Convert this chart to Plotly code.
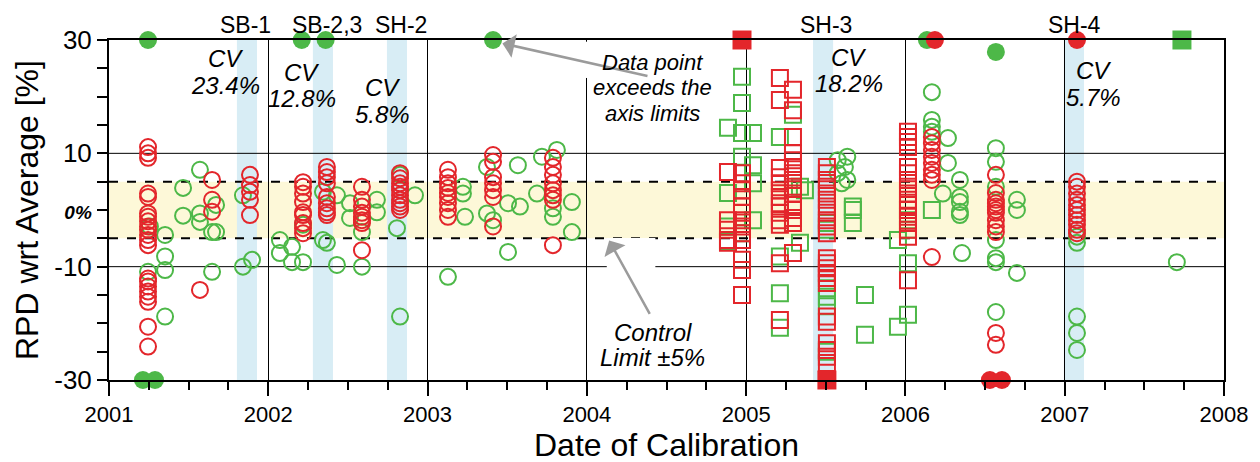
import plotly.graph_objects as go

# ---------------- data (decimal year, RPD %) ----------------
red_circle_cols = [
    (2001.245, [11.1, 10.0, 9.2, 2.9, 2.3, -0.6, -1.2, -2.0, -2.9, -3.5, -4.4, -5.3, -6.2,
                -12.1, -12.6, -13.5, -14.4, -15.3, -16.2, -20.6, -24.1]),
    (2001.571, [-14.1]),
    (2001.647, [5.3, 1.8, -0.3]),
    (2001.885, [6.2, 4.4, 3.2, 1.8, -0.9]),
    (2002.218, [4.9, 4.1, 2.9, 1.4, -0.4, -0.9, -2.3, -3.2, -4.1]),
    (2002.368, [7.6, 6.7, 5.8, 4.7, 2.3, 1.2, 0.3, -0.4, -0.9]),
    (2002.588, [4.1, 1.8, 0.6, -0.5, -1.2, -1.8, -2.3, -7.1]),
    (2002.827, [6.5, 5.6, 4.7, 4.1, 3.5, 2.6, 1.8, 1.2, 0.6, 0.0]),
    (2003.128, [7.1, 5.8, 4.7, 3.9, 3.0, 2.3, 1.2, 0.0, -1.2]),
    (2003.411, [9.7, 8.5, 5.8, 4.7, 3.5, 2.3, -2.9]),
    (2003.787, [9.2, 7.6, 6.2, 4.7, 3.5, 2.6, 1.8, -6.2]),
    (2006.166, [12.9, 11.8, 10.6, 9.4, 8.3, 7.1, 6.2, 5.3, -8.3]),
    (2006.568, [6.2, 3.0, 1.8, 1.2, 0.6, 0.0, -0.5, -1.8, -2.9, -3.9, -21.7, -23.8]),
    (2007.077, [5.0, 4.1, 2.9, 1.8, 0.9, 0.0, -0.9, -1.8, -2.6, -3.5, -4.1]),
]
green_circle_cols = [
    (2001.245, [-10.9]),
    (2001.257, [-2.9]),
    (2001.352, [-4.4, -8.2, -10.6, -18.8]),
    (2001.465, [3.9, -1.0]),
    (2001.571, [7.1, -0.6, -2.1]),
    (2001.647, [-3.9, -10.9]),
    (2001.672, [0.9, -3.9]),
    (2001.841, [2.6, -10.0]),
    (2001.898, [-8.8]),
    (2002.073, [-5.3, -7.6]),
    (2002.149, [-6.5, -9.2]),
    (2002.218, [-2.6, -9.2]),
    (2002.343, [3.2, -5.3]),
    (2002.368, [-5.8]),
    (2002.431, [2.6, -9.7]),
    (2002.513, [1.2, -1.4]),
    (2002.588, [-3.9, -10.0]),
    (2002.682, [1.8, -0.4]),
    (2002.808, [-3.2]),
    (2002.827, [6.2, -18.8]),
    (2002.921, [2.6]),
    (2003.128, [-11.8]),
    (2003.222, [4.1, 2.9]),
    (2003.235, [-1.2]),
    (2003.373, [7.6, -0.6]),
    (2003.411, [-1.8]),
    (2003.505, [1.2, -7.4]),
    (2003.567, [7.9]),
    (2003.580, [0.6]),
    (2003.687, [2.9]),
    (2003.718, [9.4]),
    (2003.787, [0.3, -1.2]),
    (2003.812, [10.6]),
    (2003.906, [1.4, -3.9]),
    (2005.575, [8.8, 6.5]),
    (2005.600, [4.7]),
    (2005.620, [7.6]),
    (2005.635, [9.4, 5.3]),
    (2006.166, [20.8, 15.9, 14.7, 13.8]),
    (2006.235, [2.9]),
    (2006.267, [12.7, 8.3]),
    (2006.342, [5.3, 2.3, 1.4, -0.3, -0.9]),
    (2006.355, [-7.6]),
    (2006.568, [10.9, 8.5, 4.1, -5.3, -8.5, -9.2, -18.0]),
    (2006.700, [1.8, 0.0, -11.1]),
    (2007.077, [-4.7, -5.8, -18.8, -21.7, -24.7]),
    (2007.704, [-9.2]),
]
red_square_cols = [
    (2004.886, [6.7, -1.8, -3.5, -5.3, -5.8]),
    (2004.974, [6.5, 4.7, 3.5, 2.3, 0.6, -0.5, -1.8, -2.9, -4.1, -5.3, -8.8, -10.6, -15.0]),
    (2005.212, [23.3, 19.4, 7.4, 5.8, 4.7, 3.5, 2.3, 1.2, 0.6, -0.5, -1.8, -2.6, -9.4, -19.4]),
    (2005.294, [21.2, 17.6, 12.9, 10.0, 8.8, 7.6, 6.5, 5.3, 4.1, 2.9, 0.9, 0.0, -1.4, -2.3, -7.6]),
    (2005.507, [7.6, 6.5, 5.3, 4.1, 2.9, 1.8, 0.6, -0.5, -1.8, -2.9, -4.1, -8.5, -9.4, -10.3,
                -11.1, -12.0, -12.9, -18.8, -19.7, -23.5, -24.7, -25.9, -27.0]),
    (2006.016, [13.8, 12.9, 12.0, 11.1, 7.6, 6.5, 5.3, 4.1, 2.9, 1.8, 0.9, 0.0, -1.2, -2.3,
                -3.5, -4.7, -12.4]),
]
green_square_cols = [
    (2004.886, [14.5, 3.0, -2.9, -5.6]),
    (2004.974, [23.5, 18.9, 13.6, 9.4, -4.1]),
    (2005.043, [13.6, 7.9, 4.7, -1.8]),
    (2005.212, [12.9, -8.2, -14.7, -20.8]),
    (2005.294, [16.8]),
    (2005.338, [4.1, -5.8]),
    (2005.369, [3.5]),
    (2005.507, [-2.3, -3.5, -13.8, -15.3, -17.0, -25.0]),
    (2005.670, [0.6, 0.0, -2.3]),
    (2005.746, [-15.0, -22.0]),
    (2005.953, [-5.3, -20.6]),
    (2006.016, [0.0, -1.8, -3.5, -9.4, -18.5]),
    (2006.166, [0.0]),
]
# points beyond the axis limits (drawn on the frame)
green_dot_x = [2001.245, 2001.213, 2001.289, 2002.210, 2002.360, 2003.411, 2006.135, 2006.568]
green_dot_y = [30, -30, -30, 30, 30, 30, 30, 27.9]
red_dot_x = [2006.185, 2006.530, 2006.606, 2007.077]
red_dot_y = [30, -30, -30, 30]
red_block_x = [2004.974, 2005.507]
red_block_y = [30, -30]
green_block_x = [2007.736]
green_block_y = [30]

# sensor campaign bands (decimal year start, end) and labels
band_names = ["SB-1", "SB-2,3", "SH-2", "SH-3", "SH-4"]
band_start = [2001.803, 2002.280, 2002.745, 2005.420, 2006.995]
band_end = [2001.929, 2002.406, 2002.871, 2005.546, 2007.121]
band_label_x = [2001.86, 2002.37, 2002.833, 2005.50, 2007.064]
cv_labels = ["23.4%", "12.8%", "5.8%", "18.2%", "5.7%"]
cv_x = [2001.73, 2002.21, 2002.72, 2005.645, 2007.18]
cv_y = [24.4, 22.0, 19.2, 24.6, 22.2]

control_limit = 5
grid_y = [-10, 10]

RED = "#E3262B"
GREEN = "#4DB848"
FONT = "Liberation Sans"

# figure geometry (the page body adds an 8 px offset)
FIG_W, FIG_H = 1252, 454
L, T, PW, PH = 101, 32, 1115, 340
R, B = FIG_W - L - PW, FIG_H - T - PH


def flatten(cols):
    xs, ys = [], []
    for x, vals in cols:
        for v in vals:
            xs.append(x)
            ys.append(v)
    return xs, ys


fig = go.Figure()

for cols, color, symbol in [
    (green_circle_cols, GREEN, "circle-open"),
    (red_circle_cols, RED, "circle-open"),
    (green_square_cols, GREEN, "square-open"),
    (red_square_cols, RED, "square-open"),
]:
    xs, ys = flatten(cols)
    fig.add_trace(go.Scatter(
        x=xs, y=ys, mode="markers", cliponaxis=False, showlegend=False,
        marker=dict(symbol=symbol, size=16, color=color, line=dict(width=2, color=color)),
    ))

for xs, ys, color, symbol, size in [
    (green_dot_x, green_dot_y, GREEN, "circle", 18),
    (red_dot_x, red_dot_y, RED, "circle", 18),
    (red_block_x, red_block_y, RED, "square", 19),
    (green_block_x, green_block_y, GREEN, "square", 19),
]:
    fig.add_trace(go.Scatter(
        x=xs, y=ys, mode="markers", cliponaxis=False, showlegend=False,
        marker=dict(symbol=symbol, size=size, color=color, line=dict(width=0)),
    ))

shapes = []
shapes.append(dict(type="rect", xref="x", yref="y", x0=2001, x1=2008,
                   y0=-control_limit, y1=control_limit, fillcolor="#FDF8D8",
                   line=dict(width=0), layer="below"))
for s, e in zip(band_start, band_end):
    shapes.append(dict(type="rect", xref="x", yref="y", x0=s, x1=e, y0=-30, y1=30,
                       fillcolor="#D8EDF5", line=dict(width=0), layer="below"))
for gy in grid_y:
    shapes.append(dict(type="line", xref="x", yref="y", x0=2001, x1=2008, y0=gy, y1=gy,
                       line=dict(color="black", width=1), layer="below"))
for cy in (-control_limit, control_limit):
    shapes.append(dict(type="line", xref="x", yref="y", x0=2001, x1=2008, y0=cy, y1=cy,
                       line=dict(color="black", width=2, dash="dash"), layer="below"))
# white patches behind the notes
shapes.append(dict(type="rect", xref="x", yref="y", x0=2004.125, x1=2004.43, y0=-10.4, y1=-4.95,
                   fillcolor="white", line=dict(width=0), layer="above"))
shapes.append(dict(type="rect", xref="x", yref="y", x0=2003.985, x1=2004.02, y0=23.3, y1=29.7,
                   fillcolor="white", line=dict(width=0), layer="above"))

annotations = []
for name, x in zip(band_names, band_label_x):
    annotations.append(dict(x=x, y=1 + 15 / PH, xref="x", yref="paper", text=name, showarrow=False,
                            font=dict(family=FONT, size=23, color="black"),
                            xanchor="center", yanchor="middle"))
for lab, x, y in zip(cv_labels, cv_x, cv_y):
    annotations.append(dict(x=x, y=y + 2.35, xref="x", yref="y", text="<i>CV</i>", showarrow=False,
                            font=dict(family=FONT, size=24, color="black"),
                            xanchor="center", yanchor="middle"))
    annotations.append(dict(x=x, y=y - 2.35, xref="x", yref="y", text="<i>" + lab + "</i>",
                            showarrow=False, font=dict(family=FONT, size=24, color="black"),
                            xanchor="center", yanchor="middle"))

# arrows
annotations.append(dict(x=2003.47, y=29.4, ax=2004.39, ay=23.6, xref="x", yref="y",
                        axref="x", ayref="y", text="", showarrow=True, arrowhead=1,
                        arrowsize=1.6, arrowwidth=2.5, arrowcolor="#9B9B9B"))
annotations.append(dict(x=2004.14, y=-5.4, ax=2004.40, ay=-18.6, xref="x", yref="y",
                        axref="x", ayref="y", text="", showarrow=True, arrowhead=1,
                        arrowsize=1.6, arrowwidth=2.5, arrowcolor="#9B9B9B"))

for t, y in [("Data point", 26.1), ("exceeds the", 21.7), ("axis limits", 17.1)]:
    annotations.append(dict(x=2004.415, y=y, xref="x", yref="y", text="<i>" + t + "</i>",
                            showarrow=False, font=dict(family=FONT, size=22, color="black"),
                            xanchor="center", yanchor="middle"))
for t, y in [("Control", -21.7), ("Limit ±5%", -26.1)]:
    annotations.append(dict(x=2004.415, y=y, xref="x", yref="y", text="<i>" + t + "</i>",
                            showarrow=False, font=dict(family=FONT, size=24, color="black"),
                            xanchor="center", yanchor="middle"))

# axis titles
annotations.append(dict(x=0.5, y=-65 / PH, xref="paper", yref="paper",
                        text="Date of Calibration", showarrow=False,
                        font=dict(family=FONT, size=32, color="black"),
                        xanchor="center", yanchor="middle"))
annotations.append(dict(x=-82 / PW, y=0.5, xref="paper", yref="paper",
                        text="RPD wrt Average [%]", showarrow=False, textangle=-90,
                        font=dict(family=FONT, size=32, color="black"),
                        xanchor="center", yanchor="middle"))

fig.update_layout(
    width=FIG_W, height=FIG_H,
    margin=dict(l=L, r=R, t=T, b=B, autoexpand=False),
    paper_bgcolor="white", plot_bgcolor="white",
    font=dict(family=FONT, color="black"),
    shapes=shapes, annotations=annotations,
    xaxis=dict(
        range=[2001, 2008], tickmode="linear", tick0=2001, dtick=1, tickformat="d",
        ticks="outside", ticklen=14, tickwidth=1.5, tickcolor="black",
        tickfont=dict(family=FONT, size=22, color="black"),
        showgrid=True, gridcolor="black", gridwidth=1, automargin=False,
        showline=True, linecolor="black", linewidth=2, mirror=True, zeroline=False,
        minor=dict(dtick=0.25, tick0=2001, ticks="outside", ticklen=8, tickwidth=1.5,
                   tickcolor="black", showgrid=False),
    ),
    yaxis=dict(
        range=[-30, 30], tickmode="array", tickvals=[-30, -10, 0, 10, 30],
        ticktext=["-30", "-10", "<b><i><span style='font-size:19px'>0%</span></i></b>", "10", "30"],
        ticks="outside", ticklen=10, tickwidth=1.5, tickcolor="black",
        tickfont=dict(family=FONT, size=26, color="black"),
        showgrid=False, zeroline=False, automargin=False,
        showline=True, linecolor="black", linewidth=2, mirror=True,
        minor=dict(dtick=5, tick0=0, ticks="outside", ticklen=10, tickwidth=1.5,
                   tickcolor="black", showgrid=False),
    ),
)

fig.write_html("out.html")
